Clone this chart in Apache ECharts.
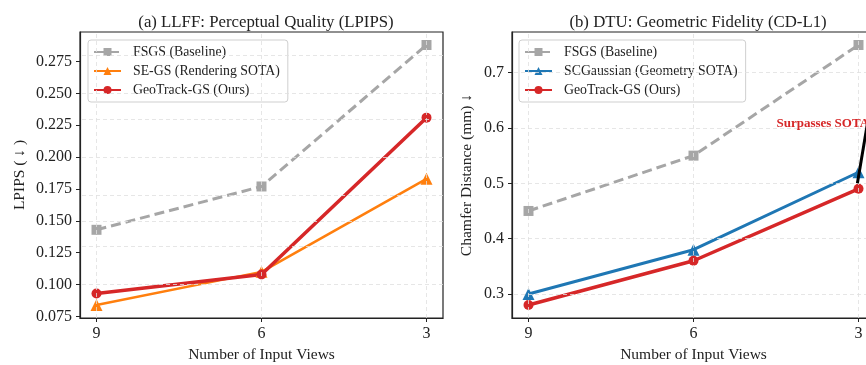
<!DOCTYPE html>
<html style="height: 100%">
<head>
  <meta charset="utf-8" />
  <title>LLFF / DTU</title>
  <script src="https://cdn.jsdelivr.net/npm/echarts@6/dist/echarts.min.js"></script>
</head>
<body style="height: 100%; margin: 0; overflow: hidden; background: #fff">
  <div id="container" style="width: 866px; height: 365px"></div>
  <script>
    // data
    var views = [9, 6, 3];
    var llffFsgs = [0.143, 0.177, 0.288];
    var llffSegs = [0.084, 0.110, 0.183];
    var llffOurs = [0.093, 0.108, 0.231];
    var dtuFsgs = [0.45, 0.55, 0.75];
    var dtuScg = [0.30, 0.38, 0.52];
    var dtuOurs = [0.28, 0.36, 0.49];
    var llffTicks = [0.075, 0.100, 0.125, 0.150, 0.175, 0.200, 0.225, 0.250, 0.275];
    var dtuTicks = [0.3, 0.4, 0.5, 0.6, 0.7];

    var font = "Liberation Serif";
    var ink = "#222";
    var pts = vals => views.map((v, i) => [v, vals[i]]);

    var dom = document.getElementById("container");
    var myChart = echarts.init(dom, null, { renderer: "canvas" });

    function xAxisFor(gi) {
      return {
        type: "value", gridIndex: gi, inverse: true, min: 2.7, max: 9.3,
        name: "Number of Input Views", nameLocation: "middle", nameGap: 27,
        nameTextStyle: { fontFamily: font, fontSize: 15.5, color: ink },
        axisLine: { show: true, onZero: false, lineStyle: { color: ink, width: 1.2 } },
        axisTick: { show: true, length: 4, customValues: views, lineStyle: { color: ink } },
        axisLabel: { customValues: views, fontFamily: font, fontSize: 16, color: ink, margin: 8 },
        splitLine: { show: false }
      };
    }
    function yAxisFor(gi, lo, hi, ticks, name, gap, dec) {
      return {
        type: "value", gridIndex: gi, min: lo, max: hi,
        name: name, nameLocation: "middle", nameGap: gap,
        nameTextStyle: { fontFamily: font, fontSize: 15.5, color: ink },
        axisLine: { show: true, lineStyle: { color: ink, width: 1.2 } },
        axisTick: { show: true, length: 4, customValues: ticks, lineStyle: { color: ink } },
        axisLabel: {
          customValues: ticks, fontFamily: font, fontSize: 16, color: ink, margin: 8,
          formatter: v => v.toFixed(dec)
        },
        splitLine: { show: false }
      };
    }
    function gridLines(gi, yTicks) {
      return {
        type: "line", xAxisIndex: gi, yAxisIndex: gi, data: [], z: 1, silent: true,
        markLine: {
          silent: true, symbol: "none", animation: false, label: { show: false },
          lineStyle: { color: "#e0e0e0", width: 0.8, type: [4, 3] },
          data: yTicks.map(v => ({ yAxis: v })).concat(views.map(v => ({ xAxis: v })))
        }
      };
    }
    function lineSeries(gi, name, vals, color, symbol, width, dashed) {
      return {
        type: "line", name: name, xAxisIndex: gi, yAxisIndex: gi, data: pts(vals), z: 3,
        symbol: symbol, symbolSize: symbol === "triangle" ? 12 : 10,
        itemStyle: { color: color },
        lineStyle: { color: color, width: width, type: dashed ? [10, 5] : "solid" },
        animation: false
      };
    }
    function legendFor(left, names) {
      return {
        left: left, top: 40, orient: "vertical", data: names,
        backgroundColor: "#fff", borderColor: "#cfcfcf", borderWidth: 1, borderRadius: 3,
        padding: [5, 8, 5, 5], itemWidth: 27, itemHeight: 10, itemGap: 5,
        textStyle: { fontFamily: font, fontSize: 13.8, color: ink, padding: [0, 0, 0, 7] }
      };
    }
    function gridAt(left) {
      return {
        left: left, top: 32, width: 363, height: 286, outerBoundsMode: "none",
        show: true, borderColor: ink, borderWidth: 1.2, backgroundColor: "transparent"
      };
    }

    var option = {
      backgroundColor: "#fff",
      animation: false,
      title: [
        { text: "(a) LLFF: Perceptual Quality (LPIPS)", left: 261, top: 9, textAlign: "center",
          textStyle: { fontFamily: font, fontSize: 16.8, fontWeight: "normal", color: ink } },
        { text: "(b) DTU: Geometric Fidelity (CD-L1)", left: 693, top: 9, textAlign: "center",
          textStyle: { fontFamily: font, fontSize: 16.8, fontWeight: "normal", color: ink } }
      ],
      legend: [
        legendFor(88, ["FSGS (Baseline)", "SE-GS (Rendering SOTA)", "GeoTrack-GS (Ours)"]),
        legendFor(519, ["FSGS (Baseline)", "SCGaussian (Geometry SOTA)", "GeoTrack-GS (Ours)"])
      ],
      grid: [gridAt(80), gridAt(512)],
      xAxis: [xAxisFor(0), xAxisFor(1)],
      yAxis: [
        yAxisFor(0, 0.0738, 0.2982, llffTicks, "LPIPS ( \u2193 )", 52, 3),
        yAxisFor(1, 0.2565, 0.7735, dtuTicks, "Chamfer Distance (mm) \u2193", 37, 1)
      ],
      series: [
        gridLines(0, llffTicks),
        gridLines(1, dtuTicks),
        lineSeries(0, "FSGS (Baseline)", llffFsgs, "#a6a6a6", "rect", 3, true),
        lineSeries(0, "SE-GS (Rendering SOTA)", llffSegs, "#ff7f0e", "triangle", 2.5, false),
        lineSeries(0, "GeoTrack-GS (Ours)", llffOurs, "#d62728", "circle", 3.5, false),
        lineSeries(1, "FSGS (Baseline)", dtuFsgs, "#a6a6a6", "rect", 3, true),
        lineSeries(1, "SCGaussian (Geometry SOTA)", dtuScg, "#1f77b4", "triangle", 3, false),
        lineSeries(1, "GeoTrack-GS (Ours)", dtuOurs, "#d62728", "circle", 3.5, false),
        {
          type: "line", xAxisIndex: 1, yAxisIndex: 1, data: [], z: 5, silent: true,
          markLine: {
            silent: true, animation: false, symbol: ["none", "arrow"], symbolSize: [0, 22],
            label: { show: false },
            lineStyle: { color: "#000", width: 3, type: "solid" },
            data: [[{ coord: [2.75, 0.66] }, { coord: [3.02, 0.50] }]]
          },
          markPoint: {
            silent: true, animation: false, symbol: "circle", symbolSize: 0,
            label: {
              show: true, position: "inside", formatter: "Surpasses SOTA",
              fontFamily: font, fontSize: 13, fontWeight: "bold", color: "#d62728"
            },
            data: [{ coord: [3.65, 0.608] }]
          }
        }
      ]
    };
    myChart.setOption(option);
  </script>
</body>
</html>
